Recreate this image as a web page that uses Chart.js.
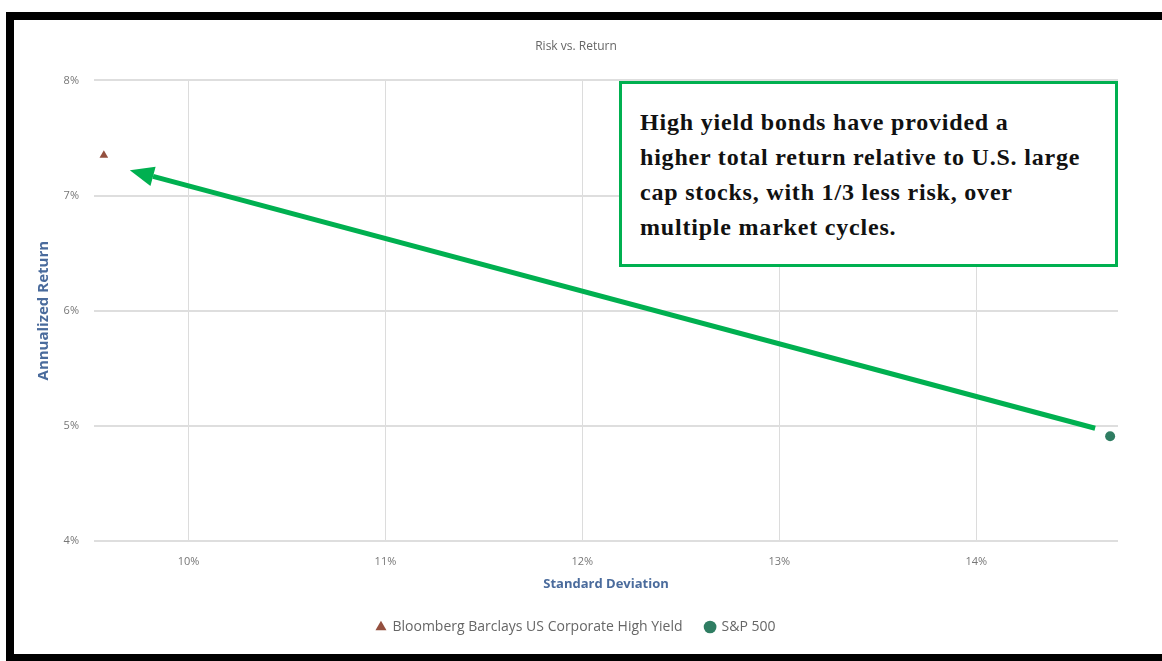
<!DOCTYPE html>
<html>
<head>
<meta charset="utf-8">
<script src="https://cdn.jsdelivr.net/npm/chart.js@4.4.1/dist/chart.umd.min.js"></script>
<style>
  html, body { margin: 0; padding: 0; background: #fff; width: 1162px; height: 661px; overflow: hidden; }
  #frame {
    position: absolute; left: 6px; top: 12px; width: 1200px; height: 634px;
    border-top: 8px solid #000; border-left: 8px solid #000; border-bottom: 8px solid #000;
  }
  #wrap { position: absolute; left: 14px; top: 20px; width: 1148px; height: 634px; }
  #note {
    position: absolute; left: 619px; top: 81px; width: 493px; height: 180px;
    border: 3px solid #00b050; background: #fff; box-sizing: content-box;
    font-family: "Liberation Serif", "DejaVu Serif", serif; font-weight: bold;
    font-size: 24px; letter-spacing: 0.8px; line-height: 35px; color: #111; padding: 0;
  }
  #note div { position: absolute; left: 18px; top: 21px; white-space: nowrap; }
</style>
</head>
<body>
<div id="frame"></div>
<div id="wrap"><canvas id="chart" width="1148" height="634"></canvas></div>
<div id="note"><div>High yield bonds have provided a<br>higher total return relative to U.S. large<br>cap stocks, with 1/3 less risk, over<br>multiple market cycles.</div></div>
<script>
// Data
const seriesNames = ['Bloomberg Barclays US Corporate High Yield', 'S&P 500'];
const stdDev = [9.57, 14.68];       // Standard Deviation (%)
const annReturn = [7.35, 4.91];     // Annualized Return (%)
const xTickValues = [10, 11, 12, 13, 14];
const yTickValues = [4, 5, 6, 7, 8];
const seriesColors = ['#94503f', '#2f7d62'];
const seriesShapes = ['triangle', 'circle'];

const datasets = seriesNames.map((name, i) => ({
    label: name,
    data: [{ x: stdDev[i], y: annReturn[i] }],
    pointStyle: seriesShapes[i],
    pointRadius: 5,
    pointHoverRadius: 5,
    backgroundColor: seriesColors[i],
    borderColor: seriesColors[i],
    borderWidth: 0
}));

// Green arrow from the S&P 500 point to the high yield point
const arrowPlugin = {
    id: 'arrow',
    afterDatasetsDraw(chart) {
        const ctx = chart.ctx;
        const hy = chart.getDatasetMeta(0).data[0];
        const sp = chart.getDatasetMeta(1).data[0];
        const x1 = sp.x - 15, y1 = sp.y - 8;
        const x2 = hy.x + 26, y2 = hy.y + 15;
        const ang = Math.atan2(y2 - y1, x2 - x1);
        const headLen = 24, headW = 10;
        const bx = x2 - headLen * Math.cos(ang), by = y2 - headLen * Math.sin(ang);
        ctx.save();
        ctx.strokeStyle = '#00b050';
        ctx.fillStyle = '#00b050';
        ctx.lineWidth = 5;
        ctx.beginPath();
        ctx.moveTo(x1, y1);
        ctx.lineTo(bx, by);
        ctx.stroke();
        ctx.beginPath();
        ctx.moveTo(x2, y2);
        ctx.lineTo(bx + headW * Math.sin(ang), by - headW * Math.cos(ang));
        ctx.lineTo(bx - headW * Math.sin(ang), by + headW * Math.cos(ang));
        ctx.closePath();
        ctx.fill();
        ctx.restore();
    }
};

const ctx = document.getElementById('chart').getContext('2d');
new Chart(ctx, {
    type: 'scatter',
    data: { datasets: datasets },
    plugins: [arrowPlugin],
    options: {
        responsive: false,
        animation: false,
        layout: { padding: { left: 20, right: 44, top: 0, bottom: 10 } },
        plugins: {
            title: {
                display: true,
                text: 'Risk vs. Return',
                color: '#666',
                font: { family: 'Open Sans', size: 12, weight: 'normal' },
                padding: { top: 19, bottom: 27 }
            },
            legend: {
                display: true,
                position: 'bottom',
                labels: {
                    usePointStyle: true,
                    boxWidth: 9,
                    boxHeight: 9,
                    color: '#666',
                    font: { family: 'Open Sans', size: 14 },
                    padding: 23
                }
            },
            tooltip: { enabled: false }
        },
        scales: {
            x: {
                type: 'linear',
                min: 9.52,
                max: 14.72,
                afterBuildTicks(scale) { scale.ticks = xTickValues.map(v => ({ value: v })); },
                afterFit(scale) { scale.height = 56; },
                ticks: {
                    color: '#777',
                    font: { family: 'Open Sans', size: 11 },
                    padding: 14,
                    callback: v => v + '%'
                },
                grid: { color: '#dcdcdc', drawTicks: false },
                border: { display: false },
                title: {
                    display: true,
                    text: 'Standard Deviation',
                    color: '#4a6b9c',
                    font: { family: 'Open Sans', size: 13, weight: '700' },
                    padding: { top: 0, bottom: 5 }
                }
            },
            y: {
                type: 'linear',
                min: 4,
                max: 8,
                afterBuildTicks(scale) { scale.ticks = yTickValues.map(v => ({ value: v })); },
                afterFit(scale) { scale.width = 60; },
                ticks: {
                    color: '#777',
                    font: { family: 'Open Sans', size: 11 },
                    padding: 15,
                    callback: v => v + '%'
                },
                grid: { color: '#dedede', lineWidth: 2, drawTicks: false },
                border: { display: false },
                title: {
                    display: true,
                    text: 'Annualized Return',
                    color: '#4a6b9c',
                    font: { family: 'Open Sans', size: 15, weight: '700' },
                    padding: { top: 1, bottom: 0 }
                }
            }
        }
    }
});
</script>
</body>
</html>
